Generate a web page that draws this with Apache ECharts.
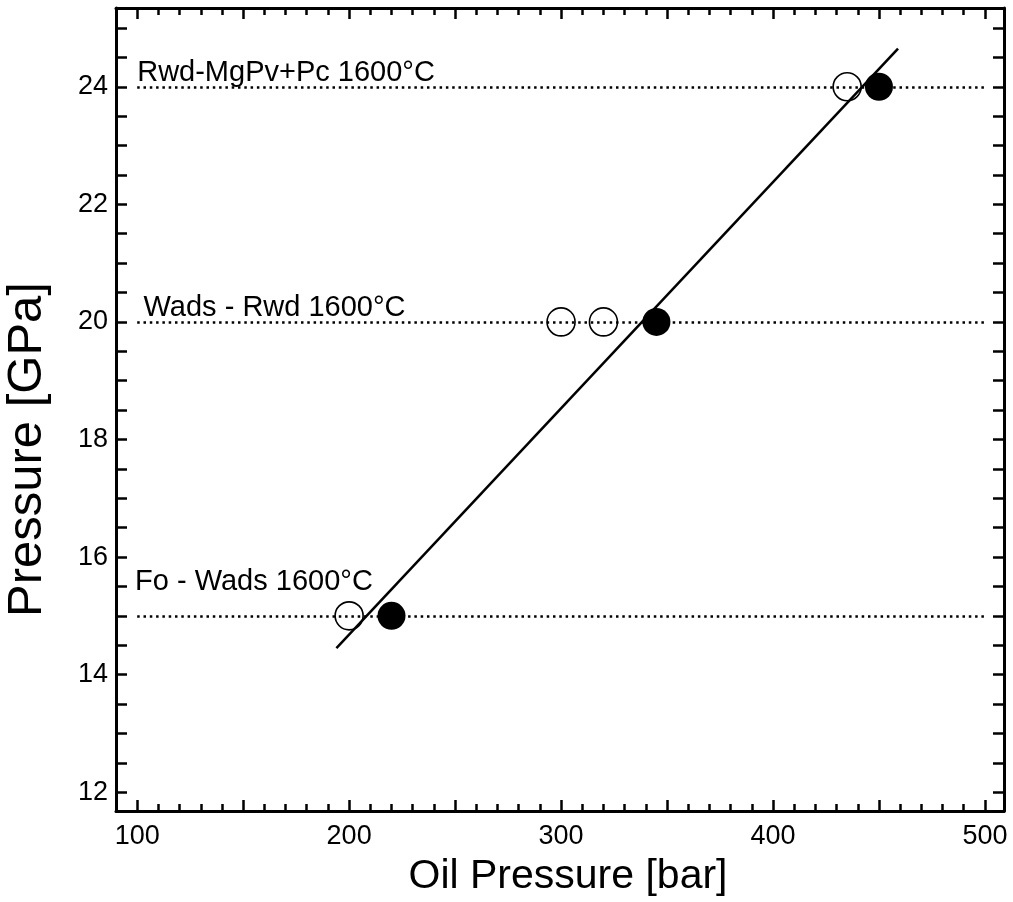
<!DOCTYPE html>
<html>
<head>
<meta charset="utf-8">
<script src="https://cdn.jsdelivr.net/npm/echarts@6/dist/echarts.min.js"></script>
<style>
html,body{margin:0;padding:0;background:#fff;}
#chart{width:1013px;height:902px;}
</style>
</head>
<body>
<div id="chart"></div>
<script>
// ---- data ----
var filledX = [220, 345, 450];
var filledY = [15, 20, 24];
var openX = [200, 300, 320, 435];
var openY = [15, 20, 20, 24];
var fitX = [194, 459];
var fitY = [14.45, 24.65];
var refY = [15, 20, 24];
var refXStart = 100;
var refXEnd = 500;
var annotationText = ['Rwd-MgPv+Pc 1600°C', 'Wads - Rwd 1600°C', 'Fo - Wads 1600°C'];
var annotationX = [100, 103, 99];
var annotationY = [24.23, 20.23, 15.57];
var xLabels = [100, 200, 300, 400, 500];
var xMajorTicks = [100, 150, 200, 250, 300, 350, 400, 450, 500];
var yLabels = [12, 14, 16, 18, 20, 22, 24];
var xMinorTicks = [];
for (var v = 100; v <= 500; v += 10) { if (v % 50 !== 0) xMinorTicks.push(v); }
var yTicks = [];
for (var w = 12; w <= 25; w += 0.5) yTicks.push(w);

var FONT = 'Arial, "Liberation Sans", sans-serif';
var X_MIN = 90, X_MAX = 509, Y_MIN = 11.68, Y_MAX = 25.34;

function xAxisDef(pos, ticks, len, withLabels, withLine, withName) {
  return {
    type: 'value', position: pos, min: X_MIN, max: X_MAX,
    axisLine: { show: withLine, onZero: false, lineStyle: { color: '#000', width: 3 } },
    axisTick: { show: true, inside: true, length: len, customValues: ticks, lineStyle: { color: '#000', width: 2.5 } },
    axisLabel: withLabels ? { show: true, customValues: xLabels, fontSize: 27, color: '#000', fontFamily: FONT, margin: 12 } : { show: false },
    splitLine: { show: false },
    name: withName ? 'Oil Pressure [bar]' : '',
    nameLocation: 'middle', nameGap: 45,
    nameTextStyle: { fontSize: 41, color: '#000', fontFamily: FONT, padding: [0, 0, 0, 16] }
  };
}
function yAxisDef(pos, withLabels, withName) {
  return {
    type: 'value', position: pos, min: Y_MIN, max: Y_MAX,
    axisLine: { show: true, onZero: false, lineStyle: { color: '#000', width: 3 } },
    axisTick: { show: true, inside: true, length: 11, customValues: yTicks, lineStyle: { color: '#000', width: 2.5 } },
    axisLabel: withLabels ? { show: true, customValues: yLabels, fontSize: 27, color: '#000', fontFamily: FONT, margin: 8 } : { show: false },
    splitLine: { show: false },
    name: withName ? 'Pressure [GPa]' : '',
    nameLocation: 'middle', nameGap: 64,
    nameTextStyle: { fontSize: 49, color: '#000', fontFamily: FONT, padding: [0, 80, 0, 0] }
  };
}

var refLineData = refY.map(function (y) {
  return [{ coord: [refXStart, y] }, { coord: [refXEnd, y] }];
});

var option = {
  animation: false,
  backgroundColor: '#fff',
  grid: { left: 116, right: 9, top: 8, bottom: 91, containLabel: false, outerBoundsMode: 'none' },
  xAxis: [
    xAxisDef('bottom', xMajorTicks, 11, true, true, true),
    xAxisDef('bottom', xMinorTicks, 7, false, false, false),
    xAxisDef('top', xMajorTicks, 11, false, true, false),
    xAxisDef('top', xMinorTicks, 7, false, false, false)
  ],
  yAxis: [
    yAxisDef('left', true, true),
    yAxisDef('right', false, false)
  ],
  series: [
    {
      type: 'line', data: [], xAxisIndex: 0, yAxisIndex: 0, z: 1,
      markLine: {
        silent: true, symbol: ['none', 'none'], label: { show: false },
        lineStyle: { color: '#000', width: 2.5, type: [2.5, 3.8], cap: 'butt', opacity: 1 },
        data: refLineData
      }
    },
    {
      type: 'line', xAxisIndex: 0, yAxisIndex: 0, z: 2,
      data: fitX.map(function (x, i) { return [x, fitY[i]]; }),
      showSymbol: false, symbol: 'none',
      lineStyle: { color: '#000', width: 2.5 }
    },
    {
      type: 'scatter', xAxisIndex: 0, yAxisIndex: 0, z: 3,
      data: openX.map(function (x, i) { return [x, openY[i]]; }),
      symbol: 'circle', symbolSize: 28,
      itemStyle: { color: 'rgba(0,0,0,0)', borderColor: '#000', borderWidth: 1.6, opacity: 1 }
    },
    {
      type: 'scatter', xAxisIndex: 0, yAxisIndex: 0, z: 4,
      data: filledX.map(function (x, i) { return [x, filledY[i]]; }),
      symbol: 'circle', symbolSize: 28,
      itemStyle: { color: '#000', opacity: 1 }
    },
    {
      type: 'scatter', xAxisIndex: 0, yAxisIndex: 0, z: 5,
      data: annotationText.map(function (t, i) { return { name: t, value: [annotationX[i], annotationY[i]] }; }),
      symbolSize: 0, silent: true,
      itemStyle: { opacity: 1 },
      label: {
        show: true, position: 'right', distance: 0,
        formatter: function (p) { return p.name; },
        fontSize: 29, color: '#000', fontFamily: FONT
      }
    }
  ]
};

var chart = echarts.init(document.getElementById('chart'), null, { renderer: 'canvas' });
chart.setOption(option);
</script>
</body>
</html>
